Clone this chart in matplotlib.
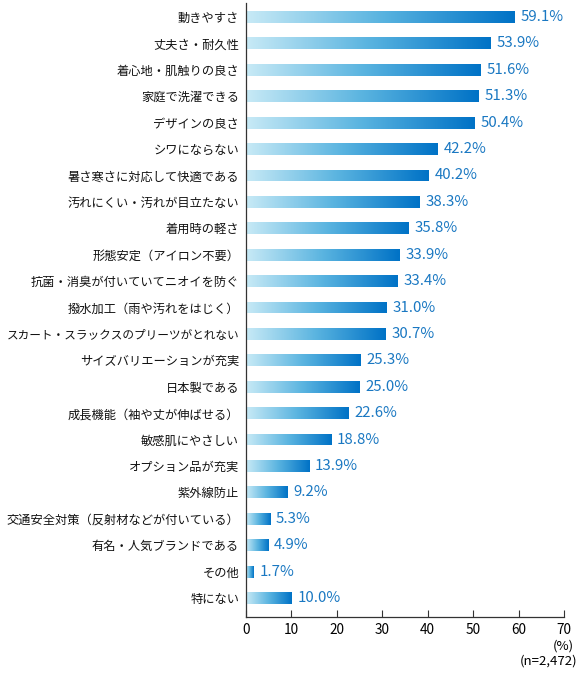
import matplotlib
matplotlib.use("Agg")
import matplotlib.pyplot as plt
import numpy as np
from matplotlib.colors import LinearSegmentedColormap

plt.rcParams['font.family'] = ['Noto Sans CJK JP', 'DejaVu Sans']

categories = ["動きやすさ", "丈夫さ・耐久性", "着心地・肌触りの良さ", "家庭で洗濯できる", "デザインの良さ",
              "シワにならない", "暑さ寒さに対応して快適である", "汚れにくい・汚れが目立たない", "着用時の軽さ",
              "形態安定（アイロン不要）", "抗菌・消臭が付いていてニオイを防ぐ", "撥水加工（雨や汚れをはじく）",
              "スカート・スラックスのプリーツがとれない", "サイズバリエーションが充実", "日本製である",
              "成長機能（袖や丈が伸ばせる）", "敏感肌にやさしい", "オプション品が充実", "紫外線防止",
              "交通安全対策（反射材などが付いている）", "有名・人気ブランドである", "その他", "特にない"]
values = [59.1, 53.9, 51.6, 51.3, 50.4, 42.2, 40.2, 38.3, 35.8, 33.9, 33.4, 31.0, 30.7,
          25.3, 25.0, 22.6, 18.8, 13.9, 9.2, 5.3, 4.9, 1.7, 10.0]
xticks = [0, 10, 20, 30, 40, 50, 60, 70]

fig = plt.figure(figsize=(5.79, 6.73), dpi=100)
ax = fig.add_axes([0.425, 0.0832, 0.549, 0.9123])

cmap = LinearSegmentedColormap.from_list("g", ["#c8eaf6", "#5ab4e0", "#0072c6"])
grad = np.linspace(0, 1, 256).reshape(1, -1)
ypos = np.arange(len(categories))
bars = ax.barh(ypos, values, height=0.45, color="none", edgecolor="none")
for b, v in zip(bars, values):
    y0 = b.get_y()
    im = ax.imshow(grad, cmap=cmap, aspect="auto",
                   extent=[0, v, y0 + b.get_height(), y0], zorder=2, interpolation="bilinear")
    im.set_clip_path(b)
    ax.text(v + 1.25, b.get_y() + b.get_height() / 2, f"{v:.1f}%", va="center", ha="left",
            color="#1a78c2", fontsize=10.8)

ax.set_xlim(0, 70)
ax.set_ylim(22.72, -0.53)
ax.set_yticks(ypos)
ax.set_yticklabels(categories, fontsize=8.8, color="#111111")
for lab in ax.get_yticklabels():
    if len(lab.get_text()) >= 20:
        lab.set_fontsize(8.4)
ax.tick_params(axis="y", length=0, pad=5)
ax.set_xticks(xticks)
ax.set_xticklabels([str(t) for t in xticks], fontsize=9.8)
ax.tick_params(axis="x", direction="in", length=5, width=0.8, color="#333333", pad=4)
for s in ["top", "right"]:
    ax.spines[s].set_visible(False)
for s in ["left", "bottom"]:
    ax.spines[s].set_color("#333333")
    ax.spines[s].set_linewidth(0.9)

fig.text(563 / 579, 1 - 646 / 673, "(%)", ha="center", va="center", fontsize=9.5)
fig.text(577 / 579, 1 - 661 / 673, "(n=2,472)", ha="right", va="center", fontsize=9.5)

fig.savefig("out.png", dpi=100)
